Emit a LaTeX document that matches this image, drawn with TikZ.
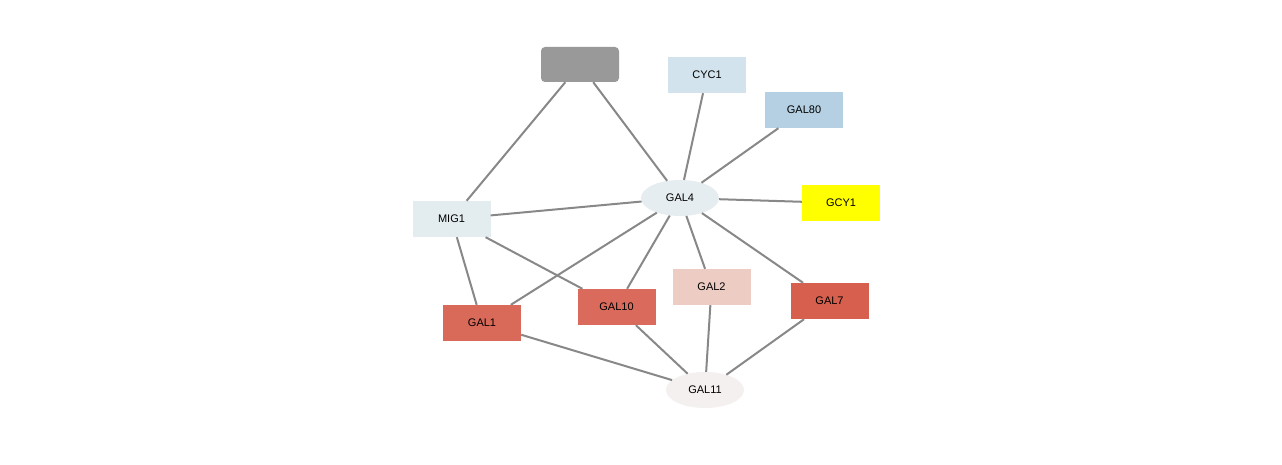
\documentclass[tikz,border=0pt]{standalone}
\usepackage{fontspec}
\setmainfont{Liberation Sans}
\usetikzlibrary{shapes.geometric}
\definecolor{edgec}{HTML}{888888}
\definecolor{grayn}{HTML}{999999}
\definecolor{cyc}{HTML}{D2E3ED}
\definecolor{galeighty}{HTML}{B4D0E2}
\definecolor{galfour}{HTML}{E6EDF0}
\definecolor{migone}{HTML}{E3ECEF}
\definecolor{galone}{HTML}{D96A5A}
\definecolor{galten}{HTML}{DA6B5C}
\definecolor{galtwo}{HTML}{EDCCC4}
\definecolor{galseven}{HTML}{D65F4E}
\definecolor{galeleven}{HTML}{F4F0EF}
\definecolor{gcy}{HTML}{FFFF00}
\begin{document}
\begin{tikzpicture}[x=1pt,y=-1pt,
  every node/.style={font=\fontsize{11}{13}\selectfont, text=black, inner sep=0pt},
  box/.style={rectangle, minimum width=78pt, minimum height=36pt},
  oval/.style={ellipse, minimum width=78pt, minimum height=36pt},
  link/.style={draw=edgec, line width=2pt}]
\useasboundingbox[fill=white] (0,0) rectangle (1282,465);
\node[box, fill=grayn, rounded corners=4pt, minimum height=35pt] (top) at (580,64.5) {};
\node[box, fill=cyc] (cyc1) at (707,75) {CYC1};
\node[box, fill=galeighty] (gal80) at (804,110) {GAL80};
\node[oval, fill=galfour] (gal4) at (680,198) {GAL4};
\node[box, fill=gcy] (gcy1) at (841,203) {GCY1};
\node[box, fill=migone] (mig1) at (451.5,219) {MIG1};
\node[box, fill=galone] (gal1) at (482,323) {GAL1};
\node[box, fill=galten] (gal10) at (616.5,307) {GAL10};
\node[box, fill=galtwo] (gal2) at (711.5,287) {GAL2};
\node[box, fill=galseven] (gal7) at (829.5,301) {GAL7};
\node[oval, fill=galeleven] (gal11) at (705,390) {GAL11};
\begin{scope}[on background layer/.try]
\end{scope}
\foreach \a/\b in {top/mig1, top/gal4, cyc1/gal4, gal80/gal4, gcy1/gal4, mig1/gal4,
  mig1/gal1, mig1/gal10, gal4/gal1, gal4/gal10, gal4/gal2, gal4/gal7,
  gal1/gal11, gal10/gal11, gal2/gal11, gal7/gal11}
  \draw[link] (\a) -- (\b);
\end{tikzpicture}
\end{document}
